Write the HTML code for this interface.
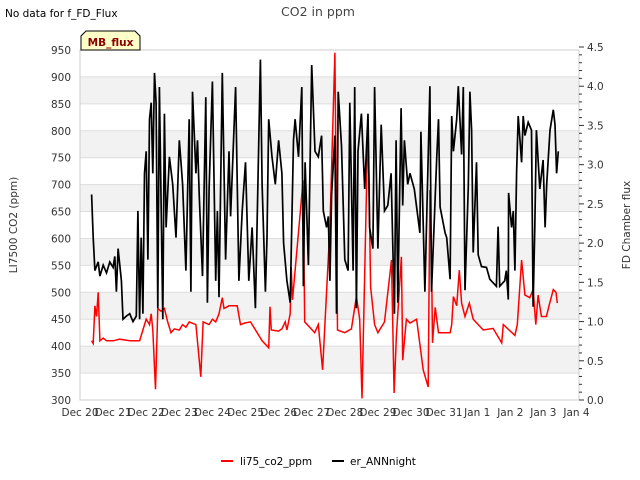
<!DOCTYPE html>
<html><head><meta charset="utf-8"><style>
body{margin:0;background:#fff;}
svg{display:block;font-family:"DejaVu Sans","Liberation Sans",sans-serif;}
</style></head><body>
<svg id="chart" width="640" height="480" viewBox="0 0 640 480">
<text x="5" y="17" font-size="10.5" fill="#000">No data for f_FD_Flux</text>
<text x="318" y="16" font-size="12.5" fill="#444" text-anchor="middle">CO2 in ppm</text>
<g id="bands"></g>
<g id="grid"></g>
<rect x="80" y="50" width="499" height="350" fill="none" stroke="#ccc"/>
<g id="yl"></g>
<g id="yr"></g>
<g id="xa"></g>
<path id="redline" fill="none" stroke="#ff0000" stroke-width="1.5"/>
<path id="blackline" fill="none" stroke="#000" stroke-width="1.7"/>
<g>
<path d="M81,50 L81,36 L86,31 L135,31 L140,36 L140,50 Z" fill="#ffffc8" stroke="#000" stroke-width="1"/>
<text x="110.5" y="46" font-size="10.5" font-weight="bold" fill="#8b0000" text-anchor="middle">MB_flux</text>
</g>
<text transform="translate(17,225) rotate(-90)" font-size="10.5" fill="#333" text-anchor="middle">LI7500 CO2 (ppm)</text>
<text transform="translate(630,225) rotate(-90)" font-size="10.5" fill="#333" text-anchor="middle">FD Chamber flux</text>
<g>
<g><line x1="221" y1="461" x2="233" y2="461" stroke="#f00" stroke-width="2"/><text x="240" y="465" font-size="10.5" fill="#000">li75_co2_ppm</text></g>
<g><line x1="332" y1="461" x2="344" y2="461" stroke="#000" stroke-width="2"/><text x="350" y="465" font-size="10.5" fill="#000">er_ANNnight</text></g>
</g>
</svg>
<script>
const xTickLabels=["Dec 20","Dec 21","Dec 22","Dec 23","Dec 24","Dec 25","Dec 26","Dec 27","Dec 28","Dec 29","Dec 30","Dec 31","Jan 1","Jan 2","Jan 3","Jan 4"];
const leftTicks=[300,350,400,450,500,550,600,650,700,750,800,850,900,950];
const rightTicks=[0.0,0.5,1.0,1.5,2.0,2.5,3.0,3.5,4.0,4.5];
const redDays=[0.35,0.4,0.45,0.5,0.55,0.6,0.7,0.8,1.0,1.2,1.5,1.8,1.9,2.0,2.1,2.15,2.2,2.28,2.35,2.45,2.55,2.65,2.75,2.85,3.0,3.1,3.2,3.3,3.5,3.65,3.72,3.9,4.0,4.1,4.2,4.3,4.35,4.5,4.75,4.85,4.98,5.15,5.5,5.7,5.74,5.78,6.0,6.1,6.2,6.25,6.35,6.38,6.42,6.74,6.79,6.94,7.09,7.2,7.33,7.4,7.55,7.7,7.78,8.0,8.2,8.35,8.45,8.52,8.7,8.78,8.9,9.0,9.2,9.41,9.49,9.56,9.71,9.75,9.86,9.97,10.17,10.37,10.52,10.57,10.62,10.65,10.73,10.83,11.18,11.23,11.28,11.38,11.46,11.53,11.63,11.76,11.88,12.18,12.48,12.74,12.79,13.14,13.21,13.34,13.44,13.59,13.69,13.77,13.84,13.94,14.09,14.17,14.30,14.38,14.42];
const redValues=[410,405,475,455,500,410,415,410,410,413,410,410,430,450,440,460,430,320,470,465,470,445,425,432,430,440,435,445,440,343,445,440,450,445,460,490,470,475,475,440,443,445,410,397,473,430,428,432,445,430,460,547,486,708,445,435,425,440,356,440,621,945,430,425,432,492,450,303,820,510,440,425,445,560,313,420,566,374,450,443,450,356,324,690,568,406,472,425,425,440,492,475,541,480,455,480,450,430,433,406,440,420,440,560,495,490,505,440,495,455,455,475,505,500,480];
const blackDays=[0.35,0.4,0.45,0.55,0.6,0.7,0.8,0.9,1.0,1.05,1.1,1.15,1.25,1.3,1.4,1.5,1.6,1.7,1.75,1.8,1.85,1.9,1.95,2.0,2.05,2.1,2.15,2.2,2.25,2.3,2.35,2.4,2.5,2.55,2.6,2.7,2.8,2.9,3.0,3.05,3.1,3.2,3.3,3.35,3.4,3.5,3.55,3.6,3.7,3.8,3.85,3.9,4.0,4.1,4.15,4.2,4.3,4.4,4.5,4.55,4.7,4.8,4.9,5.0,5.1,5.2,5.3,5.45,5.5,5.6,5.65,5.7,5.8,5.9,6.0,6.1,6.15,6.25,6.35,6.45,6.5,6.6,6.7,6.75,6.8,6.9,7.0,7.1,7.2,7.3,7.35,7.45,7.5,7.55,7.6,7.7,7.75,7.8,7.9,8.0,8.1,8.15,8.25,8.3,8.35,8.4,8.5,8.6,8.7,8.75,8.85,8.9,9.0,9.1,9.2,9.3,9.4,9.5,9.55,9.6,9.7,9.75,9.8,9.9,9.97,10.1,10.27,10.3,10.42,10.57,10.62,10.78,10.83,10.88,11.03,11.08,11.18,11.23,11.28,11.38,11.43,11.53,11.58,11.63,11.73,11.78,11.83,11.88,11.98,12.03,12.13,12.28,12.38,12.58,12.63,12.68,12.83,12.88,12.94,12.95,13.04,13.09,13.14,13.19,13.24,13.34,13.39,13.44,13.54,13.64,13.69,13.74,13.79,13.89,13.99,14.05,14.10,14.20,14.30,14.35,14.40,14.45];
const blackValues=[2.62,2.07,1.65,1.76,1.58,1.72,1.62,1.76,1.69,1.83,1.38,1.93,1.52,1.03,1.07,1.10,1.0,1.07,2.41,1.03,2.07,1.10,2.89,3.17,1.79,3.58,3.79,2.89,4.17,3.79,1.17,3.99,1.03,3.65,2.20,3.10,2.75,2.07,3.31,3.03,2.75,1.65,3.58,1.38,3.93,2.89,3.31,2.62,1.58,3.86,1.24,2.69,4.06,1.52,2.41,1.31,4.17,1.79,3.17,2.34,3.99,1.52,2.41,3.03,1.52,2.20,1.17,4.34,2.75,1.38,2.07,3.58,3.10,2.75,3.31,2.89,2.0,1.52,1.24,3.31,3.58,3.10,3.99,1.45,3.03,1.72,4.27,3.17,3.10,3.37,2.41,2.20,2.34,1.52,2.62,3.37,1.10,3.93,3.24,1.79,1.65,3.79,1.65,3.99,1.17,3.17,3.65,2.69,3.65,2.20,1.93,3.99,1.93,3.51,2.41,2.48,2.89,1.10,3.31,1.24,3.72,2.48,3.31,2.75,2.89,2.69,2.13,3.42,1.38,4.0,1.38,3.11,3.58,2.46,2.13,2.07,1.54,3.62,3.17,3.58,4.0,3.13,3.99,1.40,2.72,3.93,3.44,1.88,3.03,1.85,1.70,1.69,1.54,1.45,2.21,1.45,1.52,1.65,1.28,2.64,2.20,2.41,1.65,2.90,3.62,3.03,3.62,3.37,3.54,3.44,1.19,2.20,3.44,2.69,3.06,2.20,2.75,3.44,3.70,3.51,2.89,3.17];

const NS="http://www.w3.org/2000/svg";
const X0=80,X1=579,Y0=400,Y1=50;
const dayPx=33.1;
function xs(d){return X0+d*dayPx;}
function yl(v){return Y0-(v-300)/(950-300)*(Y0-Y1);}
function yr(v){return Y0-v/4.5*(Y0-47);}
function mk(tag,attrs,parent){const e=document.createElementNS(NS,tag);for(const k in attrs)e.setAttribute(k,attrs[k]);parent.appendChild(e);return e;}

const bands=document.getElementById('bands'),grid=document.getElementById('grid');
for(let i=0;i<leftTicks.length-1;i++){
  if(i%2===1){
    const b=mk('rect',{x:X0,y:yl(leftTicks[i+1]),width:X1-X0,height:yl(leftTicks[i])-yl(leftTicks[i+1]),fill:'#f2f2f2'},bands);
    
    
  }
}
const ylg=document.getElementById('yl');
leftTicks.forEach(v=>{
  const l=mk('line',{x1:X0,x2:X1,y1:yl(v),y2:yl(v),stroke:'#ddd'},grid);
  
  
  const t=mk('text',{x:71,y:yl(v)+4,'font-size':10.5,fill:'#333','text-anchor':'end'},ylg);
  t.textContent=v;
  
  
});
const yrg=document.getElementById('yr');
for(let i=0;i<=45;i++){
  const v=i/10,major=(i%5===0);
  const l=mk('line',{x1:X1,x2:X1+(major?5:3),y1:yr(v),y2:yr(v),stroke:'#333'},yrg);
  
  
}
rightTicks.forEach(v=>{
  const t=mk('text',{x:587,y:yr(v)+4,'font-size':10.5,fill:'#333'},yrg);
  t.textContent=v.toFixed(1);
  
  
});
const xa=document.getElementById('xa');
xTickLabels.forEach((s,i)=>{
  const t=mk('text',{x:xs(i),y:416,'font-size':10.5,fill:'#333','text-anchor':'middle'},xa);
  t.textContent=s;
  
  
});
document.getElementById('redline').setAttribute('d',redDays.map((d,i)=>(i?'L':'M')+xs(d).toFixed(1)+','+yl(redValues[i]).toFixed(1)).join(''));
document.getElementById('blackline').setAttribute('d',blackDays.map((d,i)=>(i?'L':'M')+xs(d).toFixed(1)+','+yr(blackValues[i]).toFixed(1)).join(''));
</script>
</body></html>
